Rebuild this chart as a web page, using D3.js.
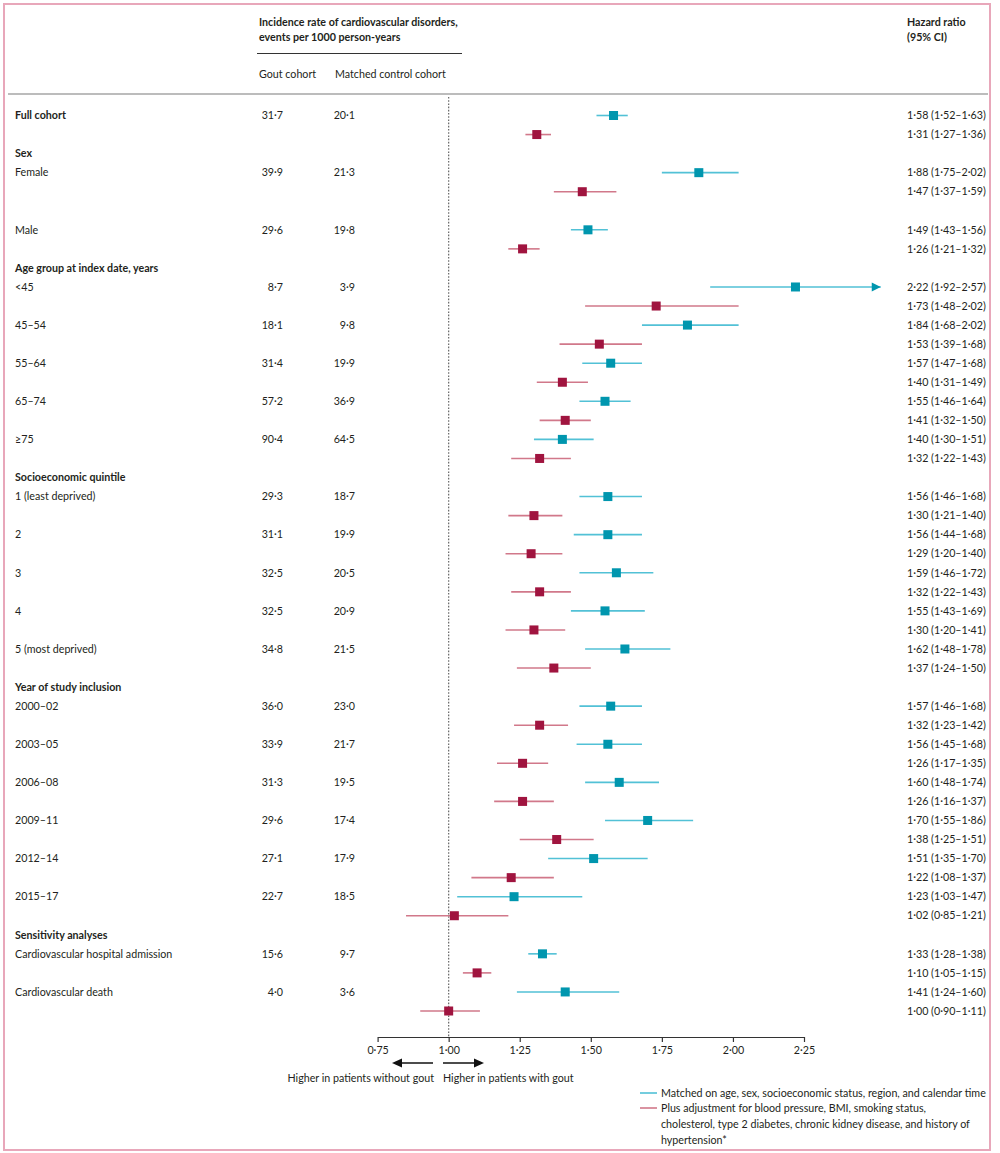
<!DOCTYPE html>
<html><head><meta charset="utf-8">
<script src="https://cdn.jsdelivr.net/npm/d3@7"></script>
<style>body{margin:0;background:#fff}text{font-family:Lato,"Liberation Sans",sans-serif;fill:#231f20}</style>
</head><body>
<svg id="c" width="1000" height="1153"></svg>
<script>
// ---------- data ----------
const groups = ["Full cohort", "Sex", "Age group at index date, years", "Socioeconomic quintile", "Year of study inclusion", "Sensitivity analyses"];
const categories = ["Full cohort", "Female", "Male", "<45", "45–54", "55–64", "65–74", "≥75",
  "1 (least deprived)", "2", "3", "4", "5 (most deprived)",
  "2000–02", "2003–05", "2006–08", "2009–11", "2012–14", "2015–17",
  "Cardiovascular hospital admission", "Cardiovascular death"];
const categoryGroup = [0, 1, 1, 2, 2, 2, 2, 2, 3, 3, 3, 3, 3, 4, 4, 4, 4, 4, 4, 5, 5];
const goutRate    = [31.7, 39.9, 29.6, 8.7, 18.1, 31.4, 57.2, 90.4, 29.3, 31.1, 32.5, 32.5, 34.8, 36.0, 33.9, 31.3, 29.6, 27.1, 22.7, 15.6, 4.0];
const controlRate = [20.1, 21.3, 19.8, 3.9, 9.8, 19.9, 36.9, 64.5, 18.7, 19.9, 20.5, 20.9, 21.5, 23.0, 21.7, 19.5, 17.4, 17.9, 18.5, 9.7, 3.6];
// Matched model (cyan)
const matchedHR  = [1.58, 1.88, 1.49, 2.22, 1.84, 1.57, 1.55, 1.40, 1.56, 1.56, 1.59, 1.55, 1.62, 1.57, 1.56, 1.60, 1.70, 1.51, 1.23, 1.33, 1.41];
const matchedLo  = [1.52, 1.75, 1.43, 1.92, 1.68, 1.47, 1.46, 1.30, 1.46, 1.44, 1.46, 1.43, 1.48, 1.46, 1.45, 1.48, 1.55, 1.35, 1.03, 1.28, 1.24];
const matchedHi  = [1.63, 2.02, 1.56, 2.57, 2.02, 1.68, 1.64, 1.51, 1.68, 1.68, 1.72, 1.69, 1.78, 1.68, 1.68, 1.74, 1.86, 1.70, 1.47, 1.38, 1.60];
// Adjusted model (red)
const adjustedHR = [1.31, 1.47, 1.26, 1.73, 1.53, 1.40, 1.41, 1.32, 1.30, 1.29, 1.32, 1.30, 1.37, 1.32, 1.26, 1.26, 1.38, 1.22, 1.02, 1.10, 1.00];
const adjustedLo = [1.27, 1.37, 1.21, 1.48, 1.39, 1.31, 1.32, 1.22, 1.21, 1.20, 1.22, 1.20, 1.24, 1.23, 1.17, 1.16, 1.25, 1.08, 0.85, 1.05, 0.90];
const adjustedHi = [1.36, 1.59, 1.32, 2.02, 1.68, 1.49, 1.50, 1.43, 1.40, 1.40, 1.43, 1.41, 1.50, 1.42, 1.35, 1.37, 1.51, 1.37, 1.21, 1.15, 1.11];
const axisTicks = [0.75, 1.00, 1.25, 1.50, 1.75, 2.00, 2.25];
const axisMax = 2.52; // where truncated CIs end with an arrow
const legendLabels = ["Matched on age, sex, socioeconomic status, region, and calendar time",
  ["Plus adjustment for blood pressure, BMI, smoking status,", "cholesterol, type 2 diabetes, chronic kidney disease, and history of", "hypertension*"]];
const directionLabels = ["Higher in patients without gout", "Higher in patients with gout"];

// ---------- helpers ----------
const dot = s => s.replace(/\./g, "·");
const f1 = v => dot(d3.format(".1f")(v));
const f2 = v => dot(d3.format(".2f")(v));
const CYAN = "#0096ae", CYAN_L = "#52c1d6", RED = "#a0143f", RED_L = "#d1788a";
const FS = 10.7;

const svg = d3.select("#c");
// border
svg.append("rect").attr("x", 4).attr("y", 4).attr("width", 986).attr("height", 1146)
  .attr("fill", "none").attr("stroke", "#e8a7ba").attr("stroke-width", 2);

// ---------- row layout ----------
const rows = [];
let slot = 0, lastGroup = -1;
categories.forEach((c, i) => {
  const g = categoryGroup[i];
  if (g !== lastGroup && g !== 0) { rows.push({slot: slot++, kind: "header", text: groups[g]}); }
  lastGroup = g;
  rows.push({slot: slot++, kind: g === 0 ? "bold" : "item", idx: i, series: "m"});
  rows.push({slot: slot++, kind: "adj", idx: i, series: "a"});
  if (c === "Female") slot++;
});
const y = d3.scaleLinear().domain([0, slot - 1]).range([115.5, 1011]);
const x = d3.scaleLinear().domain([0.75, 2.25]).range([377.6, 804]);

// ---------- header ----------
const hdr = svg.append("g");
hdr.append("text").attr("x", 259).attr("y", 26).attr("font-weight", "bold").attr("font-size", FS).text("Incidence rate of cardiovascular disorders,");
hdr.append("text").attr("x", 259).attr("y", 41).attr("font-weight", "bold").attr("font-size", FS).text("events per 1000 person-years");
hdr.append("line").attr("x1", 257).attr("x2", 462).attr("y1", 53.5).attr("y2", 53.5).attr("stroke", "#333").attr("stroke-width", 1);
hdr.append("text").attr("x", 259).attr("y", 78).attr("font-size", FS).text("Gout cohort");
hdr.append("text").attr("x", 335).attr("y", 78).attr("font-size", FS).text("Matched control cohort");
hdr.append("text").attr("x", 907).attr("y", 26).attr("font-weight", "bold").attr("font-size", FS).text("Hazard ratio");
hdr.append("text").attr("x", 907).attr("y", 41).attr("font-weight", "bold").attr("font-size", FS).text("(95% CI)");
hdr.append("line").attr("x1", 8).attr("x2", 988).attr("y1", 94).attr("y2", 94).attr("stroke", "#7a7a7a").attr("stroke-width", 1.2);

// reference line at HR = 1
svg.append("line").attr("x1", x(1)).attr("x2", x(1)).attr("y1", 97).attr("y2", 1037)
  .attr("stroke", "#666").attr("stroke-width", 1.2).attr("stroke-dasharray", "1.6,1.6");

// ---------- rows ----------
const g = svg.append("g");
rows.forEach(r => {
  const yy = y(r.slot);
  if (r.kind === "header") {
    g.append("text").attr("x", 15).attr("y", yy).attr("dy", "0.35em").attr("font-size", FS).attr("font-weight", "bold").text(r.text);
    return;
  }
  const i = r.idx;
  if (r.kind === "bold" || r.kind === "item") {
    g.append("text").attr("x", 15).attr("y", yy).attr("dy", "0.35em").attr("font-size", FS)
      .attr("font-weight", r.kind === "bold" ? "bold" : null).text(categories[i]);
    g.append("text").attr("x", 283).attr("y", yy).attr("dy", "0.35em").attr("font-size", FS).attr("text-anchor", "end").text(f1(goutRate[i]));
    g.append("text").attr("x", 355).attr("y", yy).attr("dy", "0.35em").attr("font-size", FS).attr("text-anchor", "end").text(f1(controlRate[i]));
  }
  const m = r.series === "m";
  const est = m ? matchedHR[i] : adjustedHR[i];
  const lo = m ? matchedLo[i] : adjustedLo[i];
  const hi = m ? matchedHi[i] : adjustedHi[i];
  const lc = m ? CYAN_L : RED_L, sc = m ? CYAN : RED;
  const hiC = Math.min(hi, axisMax);
  g.append("line").attr("x1", x(lo)).attr("x2", x(hiC)).attr("y1", yy).attr("y2", yy)
    .attr("stroke", lc).attr("stroke-width", 1.6);
  if (hi > axisMax) {
    const xt = x(axisMax);
    g.append("path").attr("d", `M${xt - 9},${yy - 4.5}L${xt},${yy}L${xt - 9},${yy + 4.5}Z`).attr("fill", sc);
  }
  g.append("rect").attr("x", x(est) - 4.5).attr("y", yy - 4.5).attr("width", 9).attr("height", 9).attr("fill", sc);
  g.append("text").attr("x", 907).attr("y", yy).attr("dy", "0.35em").attr("font-size", FS)
    .text(`${f2(est)} (${f2(lo)}–${f2(hi)})`);
});

// ---------- axis ----------
const ax = svg.append("g").attr("transform", "translate(0,1037)")
  .call(d3.axisBottom(x).tickValues(axisTicks).tickSize(5).tickSizeOuter(0).tickPadding(4).tickFormat(f2));
ax.select(".domain").attr("stroke", "#333").attr("stroke-width", 1.2);
ax.selectAll(".tick line").attr("stroke", "#333").attr("stroke-width", 1.2);
ax.selectAll(".tick text").attr("font-size", FS).attr("fill", "#231f20").attr("font-family", "Lato, sans-serif");

// direction arrows
const ay = 1063;
svg.append("line").attr("x1", 433).attr("x2", 400).attr("y1", ay).attr("y2", ay).attr("stroke", "#111").attr("stroke-width", 1.3);
svg.append("path").attr("d", `M392,${ay}L402,${ay - 4.5}L402,${ay + 4.5}Z`).attr("fill", "#111");
svg.append("line").attr("x1", 443).attr("x2", 476).attr("y1", ay).attr("y2", ay).attr("stroke", "#111").attr("stroke-width", 1.3);
svg.append("path").attr("d", `M484,${ay}L474,${ay - 4.5}L474,${ay + 4.5}Z`).attr("fill", "#111");
svg.append("text").attr("x", 434).attr("y", 1082).attr("font-size", FS).attr("text-anchor", "end").text(directionLabels[0]);
svg.append("text").attr("x", 443).attr("y", 1082).attr("font-size", FS).text(directionLabels[1]);

// legend
svg.append("line").attr("x1", 640).attr("x2", 657).attr("y1", 1093).attr("y2", 1093).attr("stroke", CYAN_L).attr("stroke-width", 1.6);
svg.append("text").attr("x", 661).attr("y", 1093).attr("dy", "0.35em").attr("font-size", FS).text(legendLabels[0]);
svg.append("line").attr("x1", 640).attr("x2", 657).attr("y1", 1108).attr("y2", 1108).attr("stroke", RED_L).attr("stroke-width", 1.6);
legendLabels[1].forEach((t, k) => {
  svg.append("text").attr("x", 661).attr("y", 1108 + k * 16).attr("dy", "0.35em").attr("font-size", FS).text(t);
});
</script>
</body></html>
